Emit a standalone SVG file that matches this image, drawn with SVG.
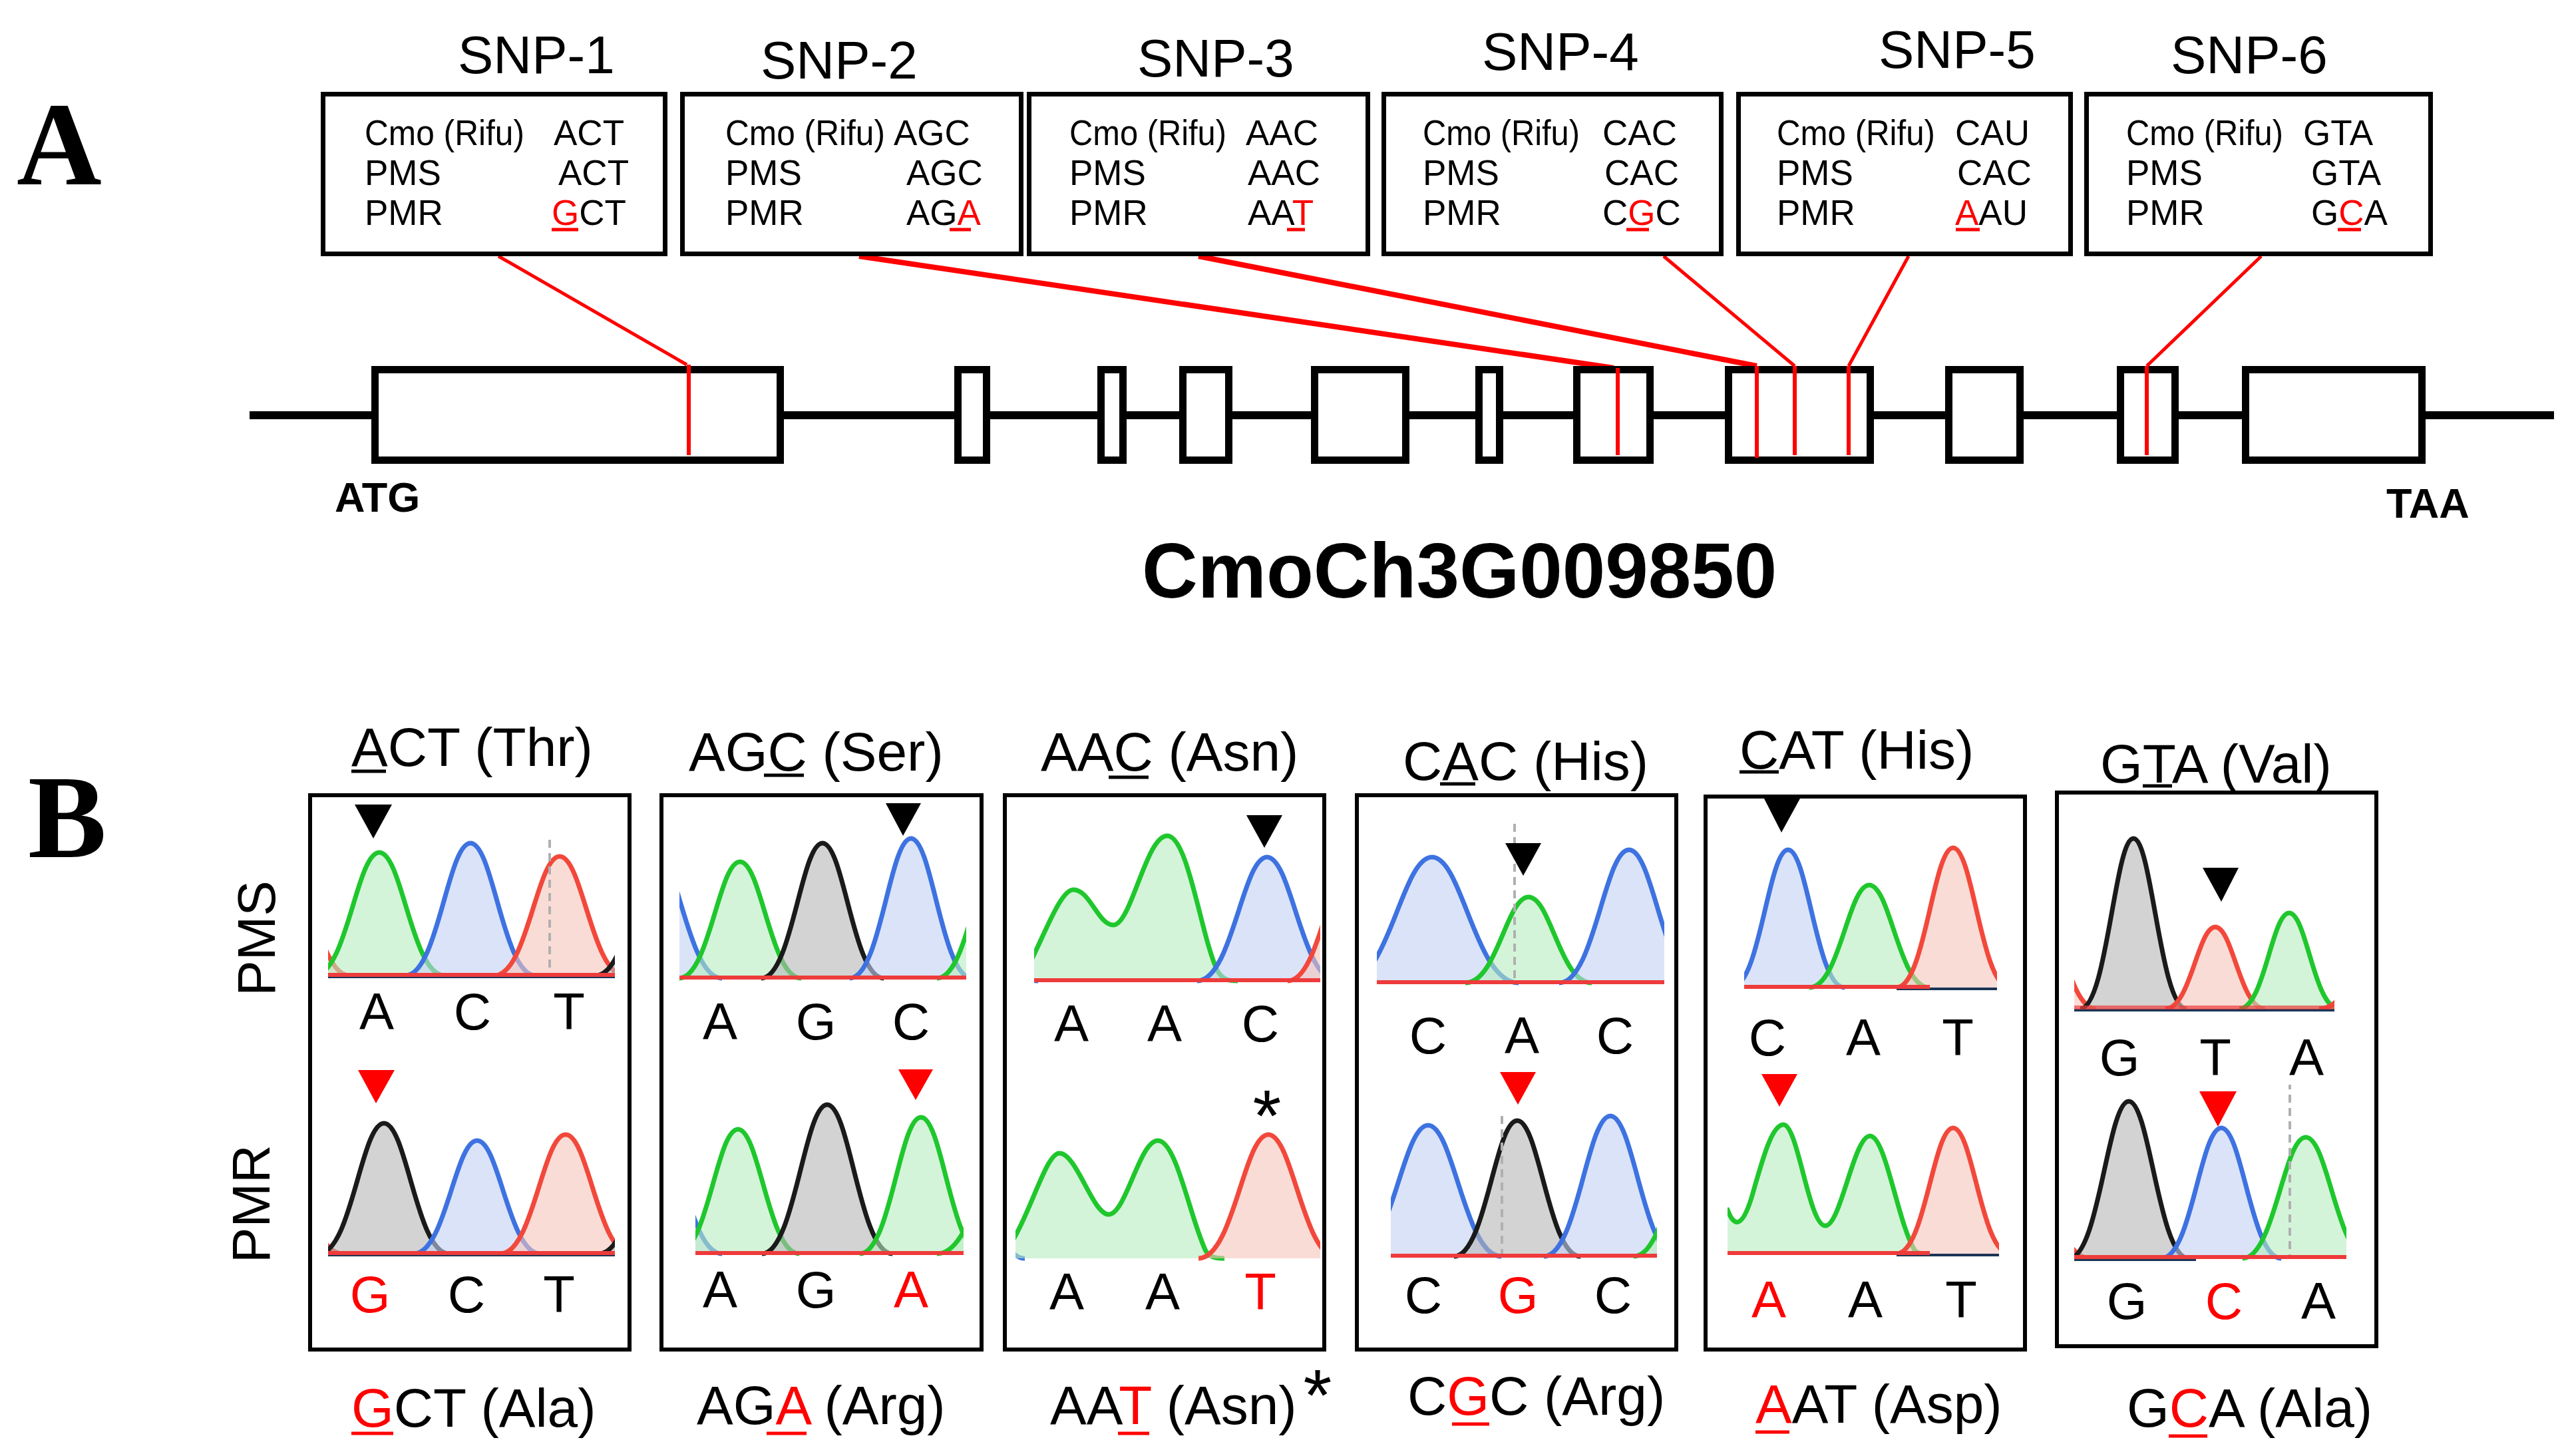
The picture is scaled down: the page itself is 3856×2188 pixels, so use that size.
<svg xmlns="http://www.w3.org/2000/svg" width="3856" height="2188" viewBox="0 0 3856 2188">
<style>
text{font-family:"Liberation Sans",Arial,sans-serif;fill:#000}
.lbl{font-family:"Liberation Serif","Times New Roman",serif;font-weight:bold;font-size:177px}
.snp{font-size:80px}
.bt{font-size:53px}
.box{fill:#fff;stroke:#000;stroke-width:7}
.exon{fill:#fff;stroke:#000;stroke-width:11}
.gl{stroke:#000;stroke-width:12}
.red{fill:#ff0000}
.rul{stroke:#ff0000;stroke-width:5}
.kul{stroke:#000;stroke-width:5}
.conn line{stroke:#ff0000;fill:none}
.snpbar{stroke:#ff0000;stroke-width:6}
.panel{fill:none;stroke:#000;stroke-width:6}
.hd{font-size:82px}
.nt{font-size:78px;text-anchor:middle}
.side{font-size:80px;text-anchor:middle}
.g{fill:#b8ecbf;fill-opacity:.6;stroke:#1fc72d;stroke-width:7}
.b{fill:#c3d1f3;fill-opacity:.6;stroke:#3d72e0;stroke-width:7}
.r{fill:#f7c5bd;fill-opacity:.6;stroke:#f2483b;stroke-width:7}
.k{fill:#b5b5b5;fill-opacity:.6;stroke:#1a1a1a;stroke-width:7}
.gf{fill:#b8ecbf;fill-opacity:.6;stroke:none}
.gs{fill:none;stroke:#1fc72d;stroke-width:7}
.bl{stroke:#ee3b3b;stroke-width:6}
.bld{stroke:#1b3556;stroke-width:4}
.dash{stroke:#b0b0b0;stroke-width:4;stroke-dasharray:12 8}
.tri{fill:#000}
.trir{fill:#ff0000}
</style>
<defs>
<clipPath id="c1u"><rect x="493" y="1220" width="431" height="250"/></clipPath>
<clipPath id="c1l"><rect x="493" y="1640" width="431" height="248"/></clipPath>
<clipPath id="c2u"><rect x="1021" y="1220" width="431" height="254"/></clipPath>
<clipPath id="c2l"><rect x="1045" y="1630" width="403" height="258"/></clipPath>
<clipPath id="c3u"><rect x="1554" y="1220" width="430" height="258"/></clipPath>
<clipPath id="c3l"><rect x="1526" y="1680" width="458" height="215"/></clipPath>
<clipPath id="c4u"><rect x="2069" y="1230" width="432" height="251"/></clipPath>
<clipPath id="c4l"><rect x="2090" y="1650" width="400" height="242"/></clipPath>
<clipPath id="c5u"><rect x="2621" y="1240" width="380" height="248"/></clipPath>
<clipPath id="c5l"><rect x="2596" y="1660" width="408" height="228"/></clipPath>
<clipPath id="c6u"><rect x="3117" y="1230" width="391" height="290"/></clipPath>
<clipPath id="c6l"><rect x="3117" y="1630" width="409" height="265"/></clipPath>
</defs>
<rect width="3856" height="2188" fill="#fff"/>

<text class="lbl" x="25" y="277">A</text>
<text class="lbl" x="42" y="1288">B</text>

<!-- connectors -->
<g id="connectors" class="conn">
<line x1="749" y1="385" x2="1032" y2="548" stroke-width="5"/>
<line x1="1291" y1="385" x2="2425" y2="553" stroke-width="8"/>
<line x1="1801" y1="385" x2="2640" y2="550" stroke-width="8"/>
<line x1="2500" y1="385" x2="2697" y2="550" stroke-width="5"/>
<line x1="2868" y1="385" x2="2778" y2="550" stroke-width="5"/>
<line x1="3398" y1="385" x2="3226" y2="550" stroke-width="5"/>
</g>

<!-- SNP boxes -->
<g id="snp1">
<text class="snp" x="688" y="110">SNP-1</text>
<rect class="box" x="485.5" y="141.5" width="514" height="240"/>
<text class="bt" x="548" y="218" textLength="240" lengthAdjust="spacingAndGlyphs">Cmo (Rifu)</text>
<text class="bt" x="832" y="218">ACT</text>
<text class="bt" x="548" y="278">PMS</text>
<text class="bt" x="839" y="278">ACT</text>
<text class="bt" x="548" y="338">PMR</text>
<text class="bt" x="829" y="338"><tspan class="red">G</tspan>CT</text>
<line class="rul" x1="829" y1="345" x2="869" y2="345"/>
</g>
<g id="snp2">
<text class="snp" x="1143" y="118">SNP-2</text>
<rect class="box" x="1025.5" y="141.5" width="509" height="240"/>
<text class="bt" x="1090" y="218" textLength="240" lengthAdjust="spacingAndGlyphs">Cmo (Rifu)</text>
<text class="bt" x="1343" y="218">AGC</text>
<text class="bt" x="1090" y="278">PMS</text>
<text class="bt" x="1362" y="278">AGC</text>
<text class="bt" x="1090" y="338">PMR</text>
<text class="bt" x="1362" y="338">AG<tspan class="red">A</tspan></text>
<line class="rul" x1="1427" y1="345" x2="1459" y2="345"/>
</g>
<g id="snp3">
<text class="snp" x="1709" y="115">SNP-3</text>
<rect class="box" x="1546.5" y="141.5" width="509" height="240"/>
<text class="bt" x="1607" y="218" textLength="236" lengthAdjust="spacingAndGlyphs">Cmo (Rifu)</text>
<text class="bt" x="1872" y="218">AAC</text>
<text class="bt" x="1607" y="278">PMS</text>
<text class="bt" x="1875" y="278">AAC</text>
<text class="bt" x="1607" y="338">PMR</text>
<text class="bt" x="1875" y="338">AA<tspan class="red">T</tspan></text>
<line class="rul" x1="1934" y1="345" x2="1961" y2="345"/>
</g>
<g id="snp4">
<text class="snp" x="2227" y="105">SNP-4</text>
<rect class="box" x="2079.5" y="141.5" width="507" height="240"/>
<text class="bt" x="2138" y="218" textLength="236" lengthAdjust="spacingAndGlyphs">Cmo (Rifu)</text>
<text class="bt" x="2408" y="218">CAC</text>
<text class="bt" x="2138" y="278">PMS</text>
<text class="bt" x="2411" y="278">CAC</text>
<text class="bt" x="2138" y="338">PMR</text>
<text class="bt" x="2408" y="338">C<tspan class="red">G</tspan>C</text>
<line class="rul" x1="2444" y1="345" x2="2478" y2="345"/>
</g>
<g id="snp5">
<text class="snp" x="2823" y="102">SNP-5</text>
<rect class="box" x="2612.5" y="141.5" width="499" height="240"/>
<text class="bt" x="2670" y="218" textLength="238" lengthAdjust="spacingAndGlyphs">Cmo (Rifu)</text>
<text class="bt" x="2938" y="218">CAU</text>
<text class="bt" x="2670" y="278">PMS</text>
<text class="bt" x="2941" y="278">CAC</text>
<text class="bt" x="2670" y="338">PMR</text>
<text class="bt" x="2938" y="338"><tspan class="red">A</tspan>AU</text>
<line class="rul" x1="2939" y1="345" x2="2975" y2="345"/>
</g>
<g id="snp6">
<text class="snp" x="3262" y="110">SNP-6</text>
<rect class="box" x="3135.5" y="141.5" width="517" height="240"/>
<text class="bt" x="3195" y="218" textLength="236" lengthAdjust="spacingAndGlyphs">Cmo (Rifu)</text>
<text class="bt" x="3461" y="218">GTA</text>
<text class="bt" x="3195" y="278">PMS</text>
<text class="bt" x="3473" y="278">GTA</text>
<text class="bt" x="3195" y="338">PMR</text>
<text class="bt" x="3473" y="338">G<tspan class="red">C</tspan>A</text>
<line class="rul" x1="3513" y1="345" x2="3548" y2="345"/>
</g>

<!-- gene model -->
<g id="gene">
<line class="gl" x1="375" y1="624" x2="3838" y2="624"/>
<rect class="exon" x="563.5" y="555.5" width="609" height="136"/>
<rect class="exon" x="1439.5" y="555.5" width="43" height="136"/>
<rect class="exon" x="1654.5" y="555.5" width="33" height="136"/>
<rect class="exon" x="1777.5" y="555.5" width="69" height="136"/>
<rect class="exon" x="1975.5" y="555.5" width="137" height="136"/>
<rect class="exon" x="2222.5" y="555.5" width="31" height="136"/>
<rect class="exon" x="2369.5" y="555.5" width="110" height="136"/>
<rect class="exon" x="2597.5" y="555.5" width="213" height="136"/>
<rect class="exon" x="2928.5" y="555.5" width="107" height="136"/>
<rect class="exon" x="3186.5" y="555.5" width="82" height="136"/>
<rect class="exon" x="3374.5" y="555.5" width="265" height="136"/>
<line class="snpbar" x1="1035" y1="548" x2="1035" y2="684"/>
<line class="snpbar" x1="2431" y1="553" x2="2431" y2="684"/>
<line class="snpbar" x1="2640" y1="550" x2="2640" y2="688"/>
<line class="snpbar" x1="2697" y1="550" x2="2697" y2="684"/>
<line class="snpbar" x1="2778" y1="550" x2="2778" y2="684"/>
<line class="snpbar" x1="3226" y1="550" x2="3226" y2="684"/>
<text x="503" y="769" font-size="63" font-weight="bold">ATG</text>
<text x="3586" y="778" font-size="63" font-weight="bold">TAA</text>
<text x="1716" y="898" font-size="116" font-weight="bold">CmoCh3G009850</text>
</g>

<!-- side labels -->
<text class="side" transform="rotate(-90 413 1410)" x="413" y="1410">PMS</text>
<text class="side" transform="rotate(-90 405 1809)" x="405" y="1809">PMR</text>

<!-- Panel 1 -->
<g id="panel1">
<text class="hd" x="528" y="1151">ACT (Thr)</text>
<line class="kul" x1="528" y1="1159" x2="580" y2="1159"/>
<rect class="panel" x="466" y="1195" width="480" height="833"/>
<g clip-path="url(#c1u)">
<path class="r" d="M335,1466 C382.5,1466 396.75,1290 430,1290 C463.25,1290 477.5,1466 525,1466"/>
<path class="g" d="M472,1466 C521,1466 535.7,1281 570,1281 C604.3,1281 619,1466 668,1466"/>
<path class="b" d="M609,1466 C658,1466 672.7,1267 707,1267 C741.3,1267 756,1466 805,1466"/>
<path class="r" d="M743,1466 C792,1466 806.7,1287 841,1287 C875.3,1287 890,1466 939,1466"/>
<path class="k" d="M895,1466 C942.5,1466 956.75,1300 990,1300 C1023.25,1300 1037.5,1466 1085,1466"/>
<line class="dash" x1="826" y1="1262" x2="826" y2="1466"/>
<line class="bld" x1="493" y1="1468" x2="924" y2="1468"/>
<line class="bl" x1="493" y1="1465" x2="924" y2="1465"/>
</g>
<polygon class="tri" points="533,1209 589,1209 561,1260"/>
<text class="nt" x="566" y="1547">A</text><text class="nt" x="710" y="1547">C</text><text class="nt" x="855" y="1547">T</text>
<polygon class="trir" points="538,1608 593,1608 565,1658"/>
<g clip-path="url(#c1l)">
<path class="r" d="M325,1884 C372.5,1884 386.75,1744 420,1744 C453.25,1744 467.5,1884 515,1884"/>
<path class="k" d="M479,1884 C528,1884 542.7,1688 577,1688 C611.3,1688 626,1884 675,1884"/>
<path class="b" d="M622,1884 C669.5,1884 683.75,1714 717,1714 C750.25,1714 764.5,1884 812,1884"/>
<path class="r" d="M752,1884 C801,1884 815.7,1705 850,1705 C884.3,1705 899,1884 948,1884"/>
<path class="k" d="M900,1884 C947.5,1884 961.75,1720 995,1720 C1028.25,1720 1042.5,1884 1090,1884"/>
<line class="bld" x1="493" y1="1886" x2="924" y2="1886"/>
<line class="bl" x1="493" y1="1883" x2="924" y2="1883"/>
</g>
<text class="nt red" x="556" y="1972">G</text><text class="nt" x="701" y="1972">C</text><text class="nt" x="840" y="1972">T</text>
<text class="hd" x="528" y="2144"><tspan class="red">G</tspan>CT (Ala)</text>
<line class="rul" x1="528" y1="2154" x2="591" y2="2154"/>
</g>

<!-- Panel 2 -->
<g id="panel2">
<text class="hd" x="1035" y="1158">AGC (Ser)</text>
<line class="kul" x1="1148" y1="1165" x2="1208" y2="1165"/>
<rect class="panel" x="994" y="1195" width="481" height="833"/>
<g clip-path="url(#c2u)">
<path class="b" d="M875,1470 C927.5,1470 943.25,1270 980,1270 C1016.75,1270 1032.5,1470 1085,1470"/>
<path class="g" d="M1020,1470 C1066,1470 1079.8,1295 1112,1295 C1144.2,1295 1158,1470 1204,1470"/>
<path class="k" d="M1144,1470 C1190,1470 1203.8,1267 1236,1267 C1268.2,1267 1282,1470 1328,1470"/>
<path class="b" d="M1277,1470 C1323,1470 1336.8,1260 1369,1260 C1401.2,1260 1415,1470 1461,1470"/>
<path class="g" d="M1408,1470 C1454,1470 1467.8,1290 1500,1290 C1532.2,1290 1546,1470 1592,1470"/>
<line class="bl" x1="1021" y1="1469" x2="1452" y2="1469"/>
</g>
<polygon class="tri" points="1331,1207 1384,1207 1357,1256"/>
<text class="nt" x="1082" y="1562">A</text><text class="nt" x="1226" y="1562">G</text><text class="nt" x="1369" y="1562">C</text>
<polygon class="trir" points="1350,1607 1402,1607 1376,1653"/>
<g clip-path="url(#c2l)">
<path class="b" d="M895,1884 C942.5,1884 956.75,1714 990,1714 C1023.25,1714 1037.5,1884 1085,1884"/>
<path class="g" d="M1017,1884 C1063,1884 1076.8,1697 1109,1697 C1141.2,1697 1155,1884 1201,1884"/>
<path class="k" d="M1145,1884 C1194,1884 1208.7,1660 1243,1660 C1277.3,1660 1292,1884 1341,1884"/>
<path class="g" d="M1292,1884 C1338,1884 1351.8,1679 1384,1679 C1416.2,1679 1430,1884 1476,1884"/>
<path class="g" d="M1408,1884 C1454,1884 1467.8,1774 1500,1774 C1532.2,1774 1546,1884 1592,1884"/>
<line class="bl" x1="1045" y1="1883" x2="1448" y2="1883"/>
</g>
<text class="nt" x="1082" y="1965">A</text><text class="nt" x="1226" y="1965">G</text><text class="nt red" x="1369" y="1965">A</text>
<text class="hd" x="1047" y="2140">AG<tspan class="red">A</tspan> (Arg)</text>
<line class="rul" x1="1152" y1="2154" x2="1212" y2="2154"/>
</g>

<!-- Panel 3 -->
<g id="panel3">
<text class="hd" x="1564" y="1158">AAC (Asn)</text>
<line class="kul" x1="1666" y1="1168" x2="1726" y2="1168"/>
<rect class="panel" x="1510" y="1195" width="480" height="833"/>
<g clip-path="url(#c3u)">
<path class="b" d="M1440,1474 C1470,1474 1479,1424 1500,1424 C1521,1424 1530,1474 1560,1474"/>
<path class="gf" d="M1530,1474 C1555,1450 1588,1337 1613,1337 C1638,1337 1650,1390 1673,1390 C1700,1390 1722,1256 1754,1256 C1786,1256 1805,1410 1830,1460 C1838,1472 1845,1474 1860,1474 Z"/>
<path class="gs" d="M1530,1474 C1555,1450 1588,1337 1613,1337 C1638,1337 1650,1390 1673,1390 C1700,1390 1722,1256 1754,1256 C1786,1256 1805,1410 1830,1460 C1838,1472 1845,1474 1860,1474"/>
<path class="b" d="M1799,1474 C1851.5,1474 1867.25,1288 1904,1288 C1940.75,1288 1956.5,1474 2009,1474"/>
<path class="r" d="M1935,1474 C1982.5,1474 1996.75,1304 2030,1304 C2063.25,1304 2077.5,1474 2125,1474"/>
<line class="bl" x1="1554" y1="1473" x2="1984" y2="1473"/>
</g>
<polygon class="tri" points="1873,1225 1927,1225 1900,1274"/>
<text class="nt" x="1610" y="1565">A</text><text class="nt" x="1750" y="1565">A</text><text class="nt" x="1894" y="1565">C</text>
<text x="1904" y="1714" font-size="110" text-anchor="middle">*</text>
<g clip-path="url(#c3l)">
<path class="b" d="M1420,1891 C1450,1891 1459,1831 1480,1831 C1501,1831 1510,1891 1540,1891"/>
<path class="gf" d="M1500,1891 C1540,1860 1568,1733 1592,1733 C1618,1733 1642,1825 1666,1825 C1692,1825 1712,1714 1740,1714 C1768,1714 1788,1830 1812,1880 C1818,1889 1825,1891 1840,1891 Z"/>
<path class="gs" d="M1500,1891 C1540,1860 1568,1733 1592,1733 C1618,1733 1642,1825 1666,1825 C1692,1825 1712,1714 1740,1714 C1768,1714 1788,1830 1812,1880 C1818,1889 1825,1891 1840,1891"/>
<path class="r" d="M1801,1891 C1853.5,1891 1869.25,1705 1906,1705 C1942.75,1705 1958.5,1891 2011,1891"/>
</g>
<text class="nt" x="1603" y="1968">A</text><text class="nt" x="1747" y="1968">A</text><text class="nt red" x="1894" y="1968">T</text>
<text class="hd" x="1578" y="2140">AA<tspan class="red">T</tspan> (Asn)</text>
<line class="rul" x1="1680" y1="2154" x2="1727" y2="2154"/>
<text x="1980" y="2134" font-size="110" text-anchor="middle">*</text>
</g>

<!-- Panel 4 -->
<g id="panel4">
<text class="hd" x="2108" y="1172">CAC (His)</text>
<line class="kul" x1="2164" y1="1178" x2="2217" y2="1178"/>
<rect class="panel" x="2039" y="1195" width="480" height="833"/>
<g clip-path="url(#c4u)">
<path class="b" d="M2022,1477 C2087,1477 2106.5,1288 2152,1288 C2197.5,1288 2217,1477 2282,1477"/>
<path class="g" d="M2202,1477 C2249.5,1477 2263.75,1348 2297,1348 C2330.25,1348 2344.5,1477 2392,1477"/>
<path class="b" d="M2343,1477 C2395.5,1477 2411.25,1277 2448,1277 C2484.75,1277 2500.5,1477 2553,1477"/>
<line class="dash" x1="2276" y1="1218" x2="2276" y2="1477"/>
<line class="bl" x1="2069" y1="1476" x2="2501" y2="1476"/>
</g>
<polygon class="tri" points="2262,1267 2316,1267 2289,1316"/>
<text class="nt" x="2146" y="1583">C</text><text class="nt" x="2287" y="1583">A</text><text class="nt" x="2427" y="1583">C</text>
<polygon class="trir" points="2254,1611 2308,1611 2281,1660"/>
<g clip-path="url(#c4l)">
<path class="b" d="M2036,1888 C2091,1888 2107.5,1691 2146,1691 C2184.5,1691 2201,1888 2256,1888"/>
<path class="k" d="M2185,1888 C2232.5,1888 2246.75,1684 2280,1684 C2313.25,1684 2327.5,1888 2375,1888"/>
<path class="b" d="M2320,1888 C2370,1888 2385,1677 2420,1677 C2455,1677 2470,1888 2520,1888"/>
<path class="g" d="M2455,1888 C2500,1888 2513.5,1738 2545,1738 C2576.5,1738 2590,1888 2635,1888"/>
<line class="dash" x1="2257" y1="1677" x2="2257" y2="1888"/>
<line class="bl" x1="2090" y1="1887" x2="2490" y2="1887"/>
</g>
<text class="nt" x="2139" y="1973">C</text><text class="nt red" x="2281" y="1973">G</text><text class="nt" x="2424" y="1973">C</text>
<text class="hd" x="2115" y="2126">C<tspan class="red">G</tspan>C (Arg)</text>
<line class="rul" x1="2182" y1="2140" x2="2238" y2="2140"/>
</g>

<!-- Panel 5 -->
<g id="panel5">
<text class="hd" x="2614" y="1155">CAT (His)</text>
<line class="kul" x1="2614" y1="1160" x2="2673" y2="1160"/>
<rect class="panel" x="2563" y="1197" width="480" height="831"/>
<g clip-path="url(#c5u)">
<path class="b" d="M2602,1484 C2644.5,1484 2657.25,1277 2687,1277 C2716.75,1277 2729.5,1484 2772,1484"/>
<path class="g" d="M2719,1484 C2764,1484 2777.5,1330 2809,1330 C2840.5,1330 2854,1484 2899,1484"/>
<path class="r" d="M2850,1484 C2892.5,1484 2905.25,1274 2935,1274 C2964.75,1274 2977.5,1484 3020,1484"/>
<line class="bld" x1="2850" y1="1486" x2="3001" y2="1486"/>
<line class="bl" x1="2621" y1="1483" x2="2900" y2="1483"/>
</g>
<polygon class="tri" points="2651,1200 2705,1200 2677,1251"/>
<text class="nt" x="2656" y="1586">C</text><text class="nt" x="2800" y="1586">A</text><text class="nt" x="2942" y="1586">T</text>
<polygon class="trir" points="2647,1614 2701,1614 2674,1663"/>
<g clip-path="url(#c5l)">
<path class="gf" d="M2596,1884 L2596,1818 C2606,1845 2618,1845 2632,1800 C2648,1745 2662,1690 2680,1690 C2702,1690 2718,1842 2743,1842 C2766,1842 2786,1707 2810,1707 C2834,1707 2852,1840 2878,1880 C2884,1884 2890,1884 2900,1884 Z"/>
<path class="gs" d="M2590,1818 L2596,1818 C2606,1845 2618,1845 2632,1800 C2648,1745 2662,1690 2680,1690 C2702,1690 2718,1842 2743,1842 C2766,1842 2786,1707 2810,1707 C2834,1707 2852,1840 2878,1880 C2884,1884 2890,1884 2900,1884"/>
<path class="r" d="M2850,1884 C2892.5,1884 2905.25,1695 2935,1695 C2964.75,1695 2977.5,1884 3020,1884"/>
<line class="bld" x1="2850" y1="1886" x2="3004" y2="1886"/>
<line class="bl" x1="2596" y1="1883" x2="2900" y2="1883"/>
</g>
<text class="nt red" x="2658" y="1980">A</text><text class="nt" x="2803" y="1980">A</text><text class="nt" x="2947" y="1980">T</text>
<text class="hd" x="2638" y="2138"><tspan class="red">A</tspan>AT (Asp)</text>
<line class="rul" x1="2638" y1="2152" x2="2689" y2="2152"/>
</g>

<!-- Panel 6 -->
<g id="panel6">
<text class="hd" x="3156" y="1176">GTA (Val)</text>
<line class="kul" x1="3220" y1="1181" x2="3264" y2="1181"/>
<rect class="panel" x="3091" y="1191" width="480" height="832"/>
<g clip-path="url(#c6u)">
<path class="r" d="M2970,1516 C3015,1516 3028.5,1350 3060,1350 C3091.5,1350 3105,1516 3150,1516"/>
<path class="k" d="M3126,1516 C3166,1516 3178,1260 3206,1260 C3234,1260 3246,1516 3286,1516"/>
<path class="r" d="M3254,1516 C3291.5,1516 3302.75,1393 3329,1393 C3355.25,1393 3366.5,1516 3404,1516"/>
<path class="g" d="M3365,1516 C3402.5,1516 3413.75,1372 3440,1372 C3466.25,1372 3477.5,1516 3515,1516"/>
<path class="r" d="M3485,1516 C3522.5,1516 3533.75,1456 3560,1456 C3586.25,1456 3597.5,1516 3635,1516"/>
<line class="bld" x1="3117" y1="1518" x2="3508" y2="1518"/>
<line class="bl" x1="3117" y1="1514" x2="3508" y2="1514" stroke-opacity=".7"/>
</g>
<polygon class="tri" points="3310,1304 3364,1304 3338,1355"/>
<text class="nt" x="3185" y="1616">G</text><text class="nt" x="3329" y="1616">T</text><text class="nt" x="3466" y="1616">A</text>
<polygon class="trir" points="3305,1640 3361,1640 3333,1693"/>
<g clip-path="url(#c6l)">
<path class="r" d="M2960,1891 C3005,1891 3018.5,1771 3050,1771 C3081.5,1771 3095,1891 3140,1891"/>
<path class="k" d="M3109,1891 C3154,1891 3167.5,1655 3199,1655 C3230.5,1655 3244,1891 3289,1891"/>
<path class="b" d="M3248,1891 C3293,1891 3306.5,1695 3338,1695 C3369.5,1695 3383,1891 3428,1891"/>
<path class="g" d="M3370,1891 C3417.5,1891 3431.75,1709 3465,1709 C3498.25,1709 3512.5,1891 3560,1891"/>
<line class="dash" x1="3441" y1="1625" x2="3441" y2="1891"/>
<line class="bld" x1="3117" y1="1893" x2="3300" y2="1893"/>
<line class="bl" x1="3117" y1="1889" x2="3526" y2="1889"/>
</g>
<text class="nt" x="3196" y="1982">G</text><text class="nt red" x="3342" y="1982">C</text><text class="nt" x="3484" y="1982">A</text>
<text class="hd" x="3196" y="2144">G<tspan class="red">C</tspan>A (Ala)</text>
<line class="rul" x1="3259" y1="2158" x2="3317" y2="2158"/>
</g>
</svg>
